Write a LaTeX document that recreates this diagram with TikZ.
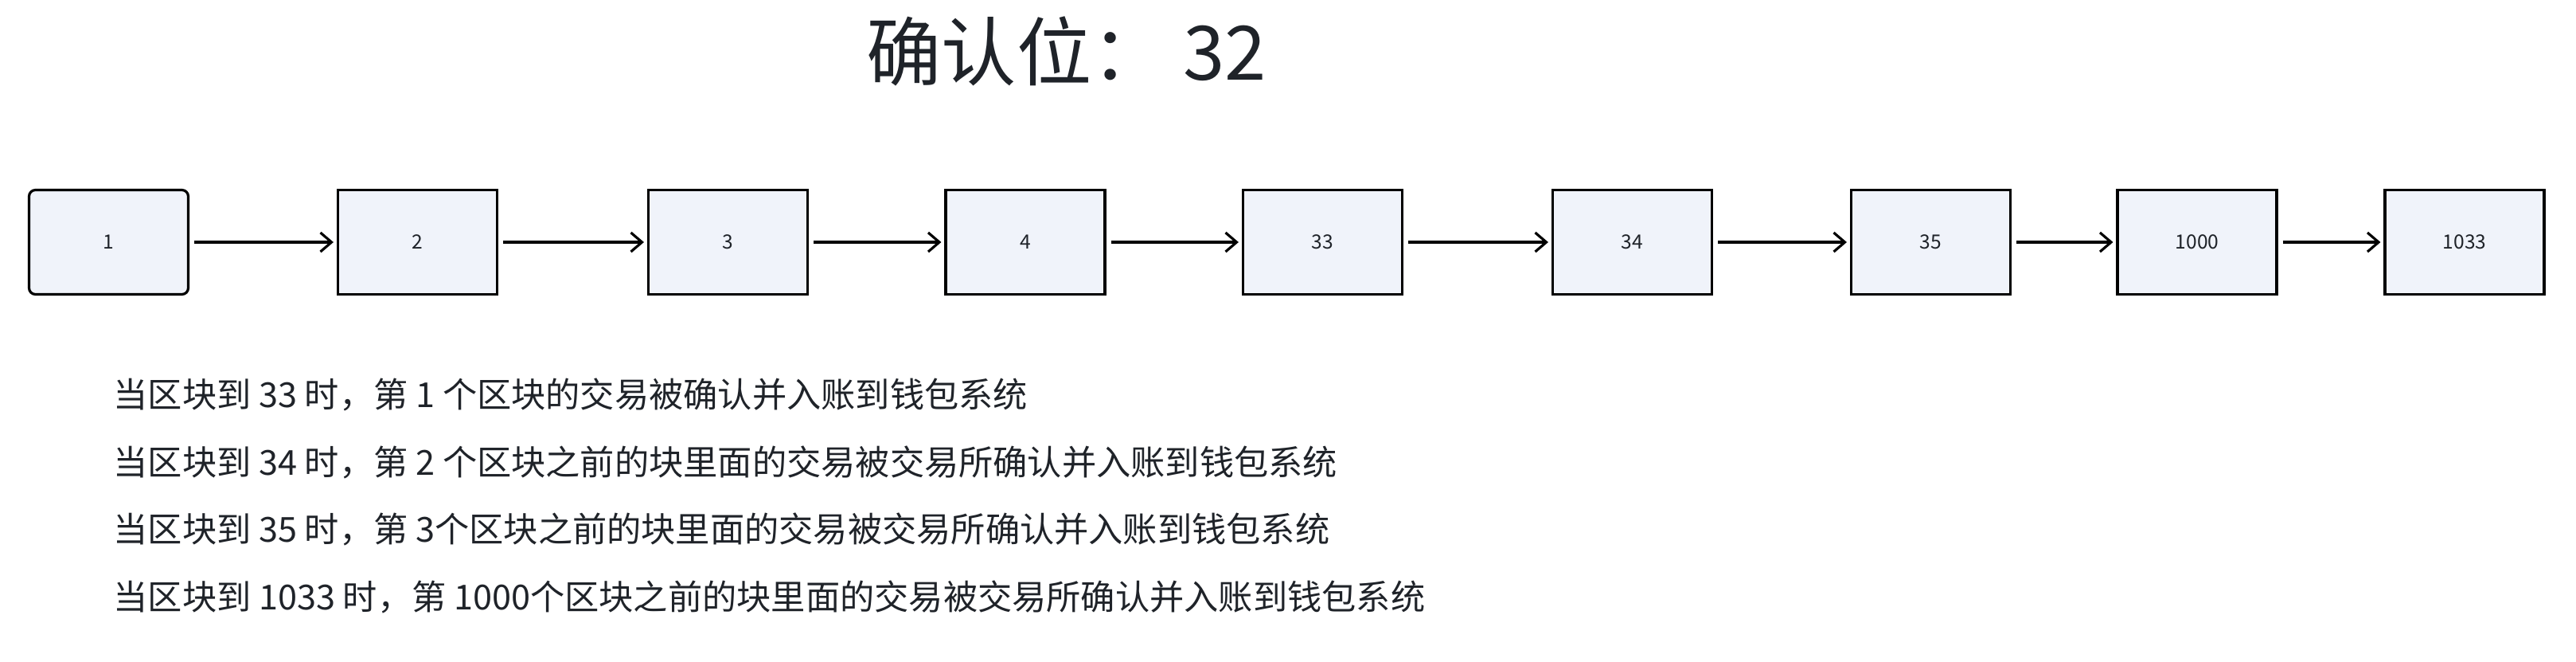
\documentclass[tikz,border=0pt]{standalone}
\usepackage{fontspec}
\usepackage{xcolor}
\usepackage{tikz}
\usetikzlibrary{arrows.meta}
\newfontfamily\cjk{Noto Sans CJK SC}
\definecolor{blkfillc}{HTML}{F0F3FA}
\definecolor{blktextc}{HTML}{1F2329}
\tikzset{
  blkbox/.style={draw=black, fill=blkfillc, line width=0.9pt, minimum width=2.00cm,
    minimum height=1.31cm, inner sep=0pt, text=blktextc, font=\cjk\fontsize{7pt}{8pt}\selectfont},
  blkfirst/.style={blkbox, rounded corners=0.08cm},
  blkarrow/.style={line width=0.9pt, draw=black, -{Straight Barb[length=1.4mm,width=2.4mm]},
    shorten <=0.06cm, shorten >=0.04cm},
  blktitle/.style={text=blktextc, inner sep=0pt, font=\cjk\fontsize{26.8pt}{31pt}\selectfont},
  blknote/.style={anchor=west, text=blktextc, inner sep=0pt, font=\cjk\fontsize{12.3pt}{14pt}\selectfont},
}

\begin{document}
\begin{tikzpicture}
\useasboundingbox (0,0) rectangle (32.36,8.30);
\node[blktitle] (title) at (13.40,7.66) {确认位： 32};
\node[blkfirst] (b1) at (1.365,5.26) {1};
\node[blkbox] (b2) at (5.245,5.26) {2};
\node[blkbox] (b3) at (9.145,5.26) {3};
\node[blkbox] (b4) at (12.880,5.26) {4};
\node[blkbox] (b33) at (16.615,5.26) {33};
\node[blkbox] (b34) at (20.505,5.26) {34};
\node[blkbox] (b35) at (24.255,5.26) {35};
\node[blkbox] (b1000) at (27.600,5.26) {1000};
\node[blkbox] (b1033) at (30.960,5.26) {1033};
\draw[blkarrow] (b1) -- (b2);
\draw[blkarrow] (b2) -- (b3);
\draw[blkarrow] (b3) -- (b4);
\draw[blkarrow] (b4) -- (b33);
\draw[blkarrow] (b33) -- (b34);
\draw[blkarrow] (b34) -- (b35);
\draw[blkarrow] (b35) -- (b1000);
\draw[blkarrow] (b1000) -- (b1033);
\node[blknote] (note1) at (1.42,3.35) {当区块到 33 时，第 1 个区块的交易被确认并入账到钱包系统};
\node[blknote] (note2) at (1.42,2.50) {当区块到 34 时，第 2 个区块之前的块里面的交易被交易所确认并入账到钱包系统};
\node[blknote] (note3) at (1.42,1.66) {当区块到 35 时，第 3个区块之前的块里面的交易被交易所确认并入账到钱包系统};
\node[blknote] (note4) at (1.42,0.81) {当区块到 1033 时，第 1000个区块之前的块里面的交易被交易所确认并入账到钱包系统};
\end{tikzpicture}
\end{document}
